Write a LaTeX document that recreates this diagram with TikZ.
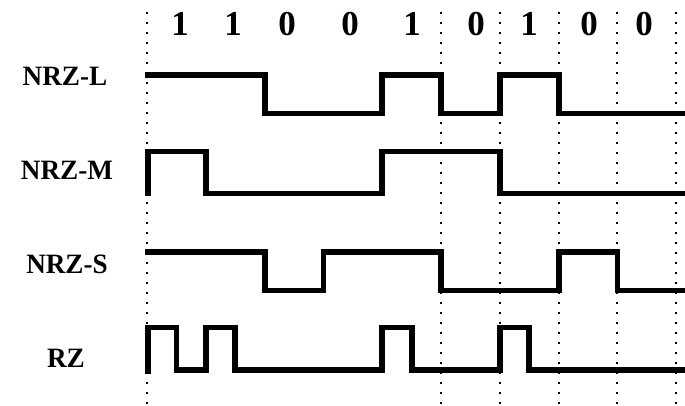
\documentclass[tikz,border=0pt]{standalone}
\usepackage{fontspec}
\setmainfont{Liberation Serif}
\begin{document}
\begin{tikzpicture}[x=1pt,y=-1pt,
  grid/.style={line width=2pt,dash pattern=on 2pt off 8pt},
  wave/.style={line width=5.8pt,line join=miter,line cap=butt},
  lbl/.style={font=\fontsize{28}{30}\selectfont\bfseries,inner sep=0pt,anchor=center,xscale=0.97},
  bit/.style={font=\fontsize{35}{37}\selectfont\bfseries,inner sep=0pt,anchor=base}]
\useasboundingbox (0,0) rectangle (685,405);
% dotted bit boundaries
\foreach \x in {147,441,499.8,558.6,617.4,676.2}
  \draw[grid] (\x,12) -- (\x,405);
% bit values
\node[bit] (b1) at (180,35) {1};
\node[bit] (b2) at (233,35) {1};
\node[bit] (b3) at (287,35) {0};
\node[bit] (b4) at (350,35) {0};
\node[bit] (b5) at (412,35) {1};
\node[bit] (b6) at (476,35) {0};
\node[bit] (b7) at (529,35) {1};
\node[bit] (b8) at (589,35) {0};
\node[bit] (b9) at (644,35) {0};
% labels
\node[lbl] (l1) at (65,76.5) {NRZ-L};
\node[lbl] (l2) at (67,170) {NRZ-M};
\node[lbl] (l3) at (67,264) {NRZ-S};
\node[lbl] (l4) at (66,358) {RZ};
% NRZ-L
\draw[wave] (145,75) -- (264.6,75) -- (264.6,113.5) -- (382.2,113.5) -- (382.2,75) -- (441,75) -- (441,113.5) -- (499.8,113.5) -- (499.8,75) -- (558.6,75) -- (558.6,113.5) -- (685,113.5);
% NRZ-M
\draw[wave] (148,196) -- (148,151.5) -- (205.8,151.5) -- (205.8,193.5) -- (382.2,193.5) -- (382.2,151.5) -- (499.8,151.5) -- (499.8,193.5) -- (685,193.5);
% NRZ-S
\draw[wave] (145,251.7) -- (264.6,251.7) -- (264.6,290.5) -- (323.4,290.5) -- (323.4,251.7) -- (441,251.7) -- (441,290.5) -- (558.6,290.5) -- (558.6,251.7) -- (617.4,251.7) -- (617.4,290.5) -- (685,290.5);
% RZ
\draw[wave] (148,374) -- (148,327.5) -- (176.4,327.5) -- (176.4,370) -- (205.8,370) -- (205.8,327.5) -- (235.2,327.5) -- (235.2,370) -- (382.2,370) -- (382.2,327.5) -- (411.6,327.5) -- (411.6,370) -- (499.8,370) -- (499.8,327.5) -- (529.2,327.5) -- (529.2,370) -- (685,370);
\end{tikzpicture}
\end{document}
